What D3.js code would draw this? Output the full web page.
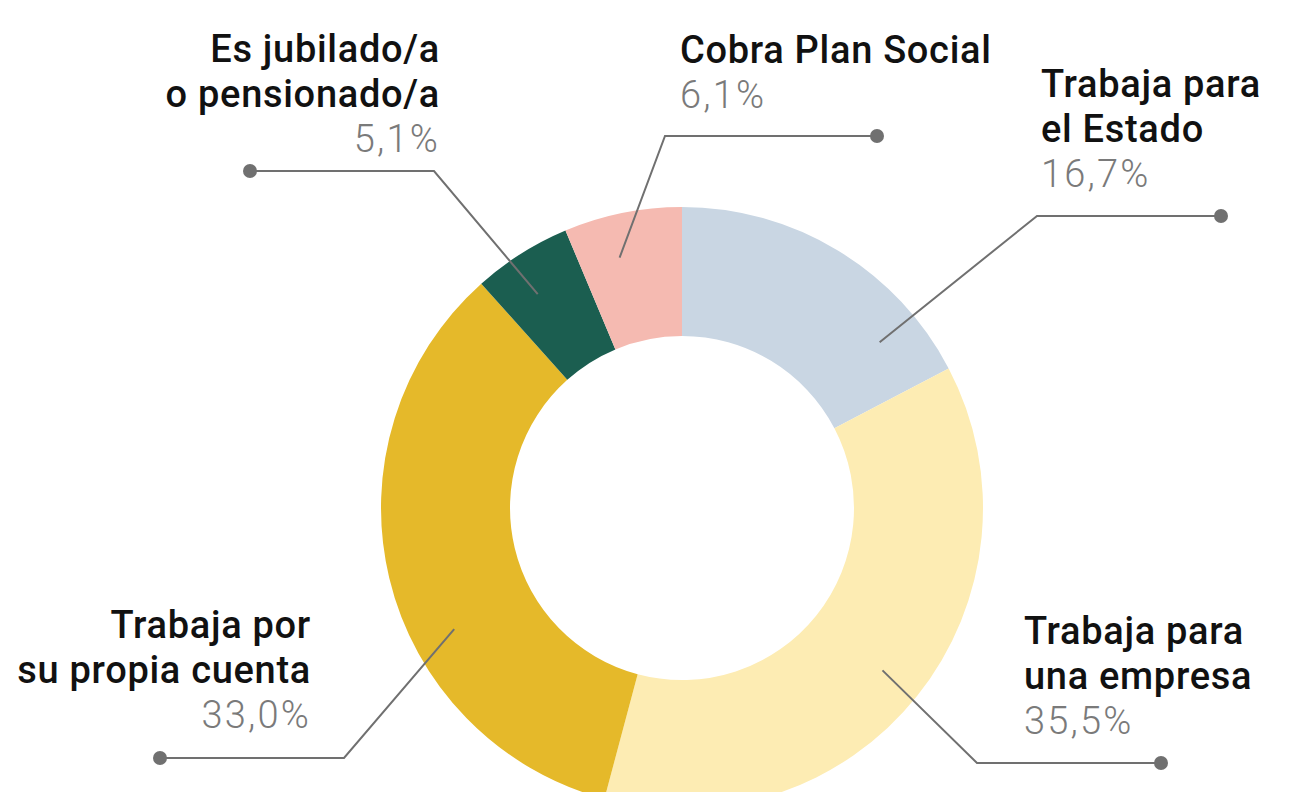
<!DOCTYPE html>
<html>
<head>
  <meta charset="utf-8">
  <title>Donut</title>
  <script src="https://d3js.org/d3.v7.min.js"></script>
  <style>
    html, body {
      margin: 0;
      padding: 0;
      background: #fff;
    }
    .lbl {
      font-family: Roboto, "Noto Sans", sans-serif;
      font-size: 38px;
      font-weight: 500;
      letter-spacing: 0.7px;
      fill: #111;
    }
    .pct {
      font-family: Roboto, "Noto Sans", sans-serif;
      font-size: 38px;
      font-weight: 300;
      letter-spacing: 2.2px;
      fill: #7a7a7a;
    }
  </style>
</head>
<body>
  <svg id="chart" width="1294" height="792"></svg>

  <script>
    // data, clockwise from 12 o'clock
    const categories = ["Trabaja para el Estado", "Trabaja para una empresa", "Trabaja por su propia cuenta", "Es jubilado/a o pensionado/a", "Cobra Plan Social"];
    const labelLines = [["Trabaja para", "el Estado"], ["Trabaja para", "una empresa"], ["Trabaja por", "su propia cuenta"], ["Es jubilado/a", "o pensionado/a"], ["Cobra Plan Social"]];
    const values = [16.7, 35.5, 33.0, 5.1, 6.1];
    const colors = ["#c9d6e3", "#fdecb3", "#e5b92a", "#1b5e50", "#f5bab1"];

    // where each callout goes (layout only)
    const callouts = [
      { ang: 50,  elbow: [1037, 216], dotX: 1221, tx: 1041, ty: 97,  anchor: "start" },
      { ang: 129, elbow: [977, 763],  dotX: 1161, tx: 1024, ty: 644, anchor: "start" },
      { ang: 242, elbow: [344, 758],  dotX: 160,  tx: 311,  ty: 638, anchor: "end" },
      { ang: 326, elbow: [434, 171],  dotX: 250,  tx: 440,  ty: 62,  anchor: "end" },
      { ang: 346, elbow: [665, 136],  dotX: 877,  tx: 680,  ty: 63,  anchor: "start" }
    ];

    const cx = 682, cy = 508;
    const rOuter = 301, rInner = 172, rAnchor = 258;
    const lineH = 45;

    const svg = d3.select("#chart");
    const g = svg.append("g").attr("transform", `translate(${cx},${cy})`);

    const pie = d3.pie().sort(null).value(d => d);
    const arc = d3.arc().innerRadius(rInner).outerRadius(rOuter);

    g.selectAll("path.slice")
      .data(pie(values))
      .join("path")
      .attr("class", "slice")
      .attr("d", arc)
      .attr("fill", (d, i) => colors[i]);

    // leader lines + labels
    callouts.forEach((c, i) => {
      const a = c.ang * Math.PI / 180;
      const sx = cx + rAnchor * Math.sin(a);
      const sy = cy - rAnchor * Math.cos(a);
      svg.append("polyline")
        .attr("points", [[sx, sy], c.elbow, [c.dotX, c.elbow[1]]].map(p => p.join(",")).join(" "))
        .attr("fill", "none")
        .attr("stroke", "#707070")
        .attr("stroke-width", 2);
      svg.append("circle")
        .attr("cx", c.dotX)
        .attr("cy", c.elbow[1])
        .attr("r", 7)
        .attr("fill", "#707070");

      const lines = labelLines[i];
      lines.forEach((t, j) => {
        svg.append("text")
          .attr("class", "lbl")
          .attr("x", c.tx)
          .attr("y", c.ty + j * lineH)
          .attr("text-anchor", c.anchor)
          .text(t);
      });
      svg.append("text")
        .attr("class", "pct")
        .attr("x", c.tx)
        .attr("y", c.ty + lines.length * lineH)
        .attr("text-anchor", c.anchor)
        .text(d3.format(".1f")(values[i]).replace(".", ",") + "%");
    });
  </script>
</body>
</html>
